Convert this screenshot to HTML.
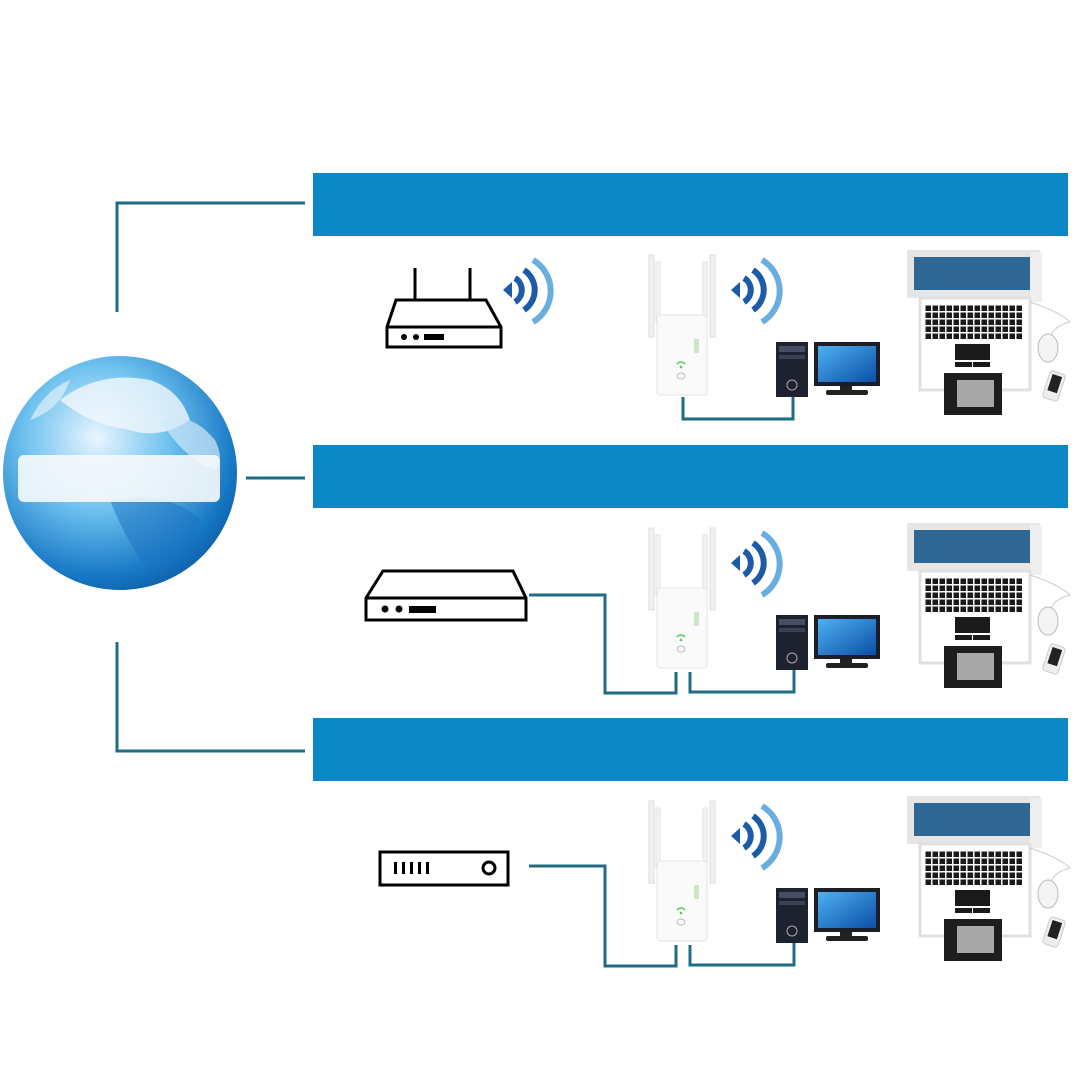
<!DOCTYPE html>
<html><head><meta charset="utf-8"><style>html,body{margin:0;padding:0;background:#fff}svg{display:block}</style></head>
<body>
<svg width="1080" height="1080" viewBox="0 0 1080 1080" xmlns="http://www.w3.org/2000/svg">
<defs>
<radialGradient id="gl" cx="0.4" cy="0.35" r="0.7">
<stop offset="0" stop-color="#e8f6ff"/><stop offset="0.45" stop-color="#6cc0ee"/><stop offset="0.85" stop-color="#1677c4"/><stop offset="1" stop-color="#0d5fa8"/></radialGradient>
<linearGradient id="mon" x1="0" y1="0" x2="1" y2="1"><stop offset="0" stop-color="#4fb0f0"/><stop offset="1" stop-color="#0a4fa8"/></linearGradient>
<pattern id="keys" x="925" y="305" width="7" height="7" patternUnits="userSpaceOnUse"><rect width="7" height="7" fill="#fff"/><rect x="0.5" y="0.5" width="5.5" height="5.5" fill="#1a1a1a"/></pattern>
<g id="grp">
 <path d="M731,290 l9,-8 v16 z" fill="#1d5aa8"/>
 <path d="M744,278 a14,14 0 0 1 0,24" fill="none" stroke="#1d5aa8" stroke-width="6"/>
 <path d="M753,270 a24,24 0 0 1 0,40" fill="none" stroke="#1d5aa8" stroke-width="6"/>
 <path d="M762,260 a36,36 0 0 1 0,62" fill="none" stroke="#6aaee0" stroke-width="6"/>
 <rect x="649" y="255" width="5" height="82" fill="#f1f1f1" stroke="#ddd"/>
 <rect x="656" y="262" width="4" height="60" fill="#f4f4f4" stroke="#e2e2e2"/>
 <rect x="703" y="262" width="4" height="60" fill="#f4f4f4" stroke="#e2e2e2"/>
 <rect x="710" y="255" width="5" height="82" fill="#f1f1f1" stroke="#ddd"/>
 <rect x="657" y="315" width="50" height="80" rx="3" fill="#fafafa" stroke="#e4e4e4"/>
 <path d="M677,364 a5,5 0 0 1 8,0" fill="none" stroke="#5c5" stroke-width="1.5"/>
 <circle cx="681" cy="367" r="1.3" fill="#5c5"/>
 <ellipse cx="681" cy="376" rx="4" ry="3" fill="none" stroke="#bbb"/>
 <rect x="694" y="339" width="5" height="14" fill="#cde6c5"/>
 <rect x="776" y="342" width="32" height="55" fill="#1e2230"/>
 <rect x="779" y="346" width="26" height="6" fill="#474e63"/>
 <rect x="779" y="355" width="26" height="4" fill="#3a4155"/>
 <circle cx="792" cy="385" r="5" fill="none" stroke="#aaa"/>
 <rect x="814" y="342" width="66" height="44" fill="#1b1e27"/>
 <rect x="818" y="346" width="58" height="36" fill="url(#mon)"/>
 <rect x="840" y="386" width="12" height="5" fill="#222"/>
 <rect x="826" y="390" width="42" height="5" rx="2" fill="#222"/>
 <rect x="907" y="250" width="133" height="48" fill="#e6e6e6"/>
 <rect x="914" y="257" width="116" height="33" fill="#2e6694"/>
 <rect x="1030" y="252" width="12" height="50" fill="#efefef"/>
 <rect x="920" y="298" width="110" height="92" fill="#fff" stroke="#e0e0e0" stroke-width="3"/>
 <rect x="925" y="305" width="98" height="35" fill="url(#keys)"/>
 <rect x="955" y="344" width="35" height="16" fill="#1a1a1a"/>
 <rect x="955" y="362" width="17" height="5" fill="#1a1a1a"/><rect x="973" y="362" width="17" height="5" fill="#1a1a1a"/>
 <rect x="944" y="373" width="58" height="42" fill="#1d1d1d"/>
 <rect x="957" y="380" width="37" height="27" fill="#a8a8a8"/>
 <path d="M1030,302 q30,10 40,20 q-20,5 -20,20" fill="none" stroke="#ccc"/>
 <ellipse cx="1048" cy="348" rx="10" ry="14" fill="#f4f4f4" stroke="#bbb"/>
 <rect x="1046" y="372" width="16" height="28" rx="3" fill="#eee" stroke="#ccc" transform="rotate(18 1054 386)"/>
 <rect x="1049" y="375" width="10" height="17" fill="#222" transform="rotate(18 1054 386)"/>
</g>
</defs>
<rect width="1080" height="1080" fill="#fff"/>
<rect x="313" y="173" width="755" height="63" fill="#0b87c5"/>
<rect x="313" y="445" width="755" height="63" fill="#0b87c5"/>
<rect x="313" y="718" width="755" height="63" fill="#0b87c5"/>
<g fill="none" stroke="#1f6c85" stroke-width="3">
<polyline points="117,312 117,203 305,203"/>
<line x1="246" y1="478" x2="305" y2="478"/>
<polyline points="117,642 117,751 305,751"/>
</g>
<circle cx="120" cy="473" r="117" fill="url(#gl)"/>
<path d="M60,400 q40,-30 90,-20 q30,10 40,40 q-30,20 -60,10 q-40,-5 -70,-30z" fill="#f2f8fd" opacity="0.8"/>
<path d="M160,420 q30,-10 55,20 q10,20 0,30 q-30,-10 -55,-50z" fill="#cfe8f8" opacity="0.7"/>
<path d="M110,500 q60,-10 90,20 q-10,40 -50,50 q-20,-20 -40,-70z" fill="#1a6fc0" opacity="0.5"/>
<path d="M30,420 q15,-30 40,-40 q-10,30 -40,40z" fill="#dff0fb" opacity="0.7"/>
<rect x="18" y="455" width="202" height="47" rx="6" fill="#f6f9fc" opacity="0.9"/>
<use href="#grp"/>
<use href="#grp" transform="translate(0,273)"/>
<use href="#grp" transform="translate(0,546)"/>
<g fill="none" stroke="#000" stroke-width="3">
<line x1="415" y1="268" x2="415" y2="300"/><line x1="470" y1="268" x2="470" y2="300"/>
<path d="M396,300 h90 l15,27 v20 h-114 v-20 z"/><line x1="387" y1="327" x2="501" y2="327"/>
</g>
<circle cx="404" cy="337" r="3" fill="#000"/><circle cx="416" cy="337" r="3" fill="#000"/><rect x="424" y="334" width="20" height="6" fill="#000"/>
<path d="M503,290 l9,-8 v16 z" fill="#1d5aa8"/>
<path d="M515,278 a14,14 0 0 1 0,24" fill="none" stroke="#1d5aa8" stroke-width="6"/>
<path d="M524,270 a24,24 0 0 1 0,40" fill="none" stroke="#1d5aa8" stroke-width="6"/>
<path d="M533,260 a36,36 0 0 1 0,62" fill="none" stroke="#6aaee0" stroke-width="6"/>
<g fill="none" stroke="#000" stroke-width="3">
<path d="M383,571 h130 l13,27 v22 h-160 v-22 z"/><line x1="366" y1="598" x2="526" y2="598"/>
</g>
<circle cx="385" cy="609" r="3.5" fill="#000"/><circle cx="399" cy="609" r="3.5" fill="#000"/><rect x="409" y="606" width="27" height="7" fill="#000"/>
<rect x="380" y="852" width="128" height="33" fill="none" stroke="#000" stroke-width="3"/>
<g fill="#000"><rect x="394" y="862" width="3" height="12"/><rect x="402" y="862" width="3" height="12"/><rect x="410" y="862" width="3" height="12"/><rect x="418" y="862" width="3" height="12"/><rect x="426" y="862" width="3" height="12"/></g>
<circle cx="489" cy="868" r="6" fill="none" stroke="#000" stroke-width="3"/>
<g fill="none" stroke="#1f6c85" stroke-width="3">
<polyline points="683,397 683,419 793,419 793,397"/>
<polyline points="529,595 605,595 605,693 676,693 676,672"/>
<polyline points="690,672 690,692 794,692 794,670"/>
<polyline points="529,866 605,866 605,966 676,966 676,945"/>
<polyline points="690,945 690,965 794,965 794,943"/>
</g>
</svg>
</body></html>
